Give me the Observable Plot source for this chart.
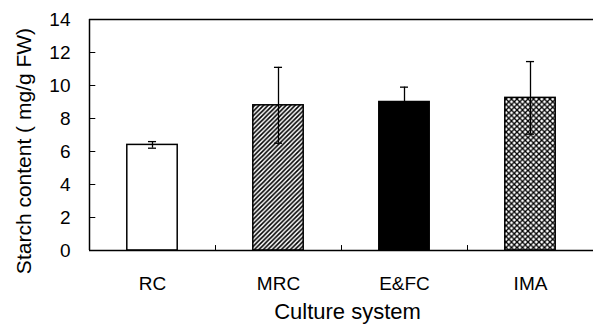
<!DOCTYPE html>
<html>
<head>
<meta charset="utf-8">
<script src="https://cdn.jsdelivr.net/npm/d3@7"></script>
<script src="https://cdn.jsdelivr.net/npm/@observablehq/plot@0.6"></script>
<style>
  html, body { margin: 0; padding: 0; background: #fff; }
  #chart svg { display: block; }
</style>
</head>
<body>
<div id="chart"></div>
<script>
const categories = ["RC", "MRC", "E&FC", "IMA"];
const means = [6.4, 8.8, 9.0, 9.25];
const errors = [0.2, 2.3, 0.9, 2.2];
const yTicks = [0, 2, 4, 6, 8, 10, 12, 14];
const xLabel = "Culture system";
const yLabel = "Starch content ( mg/g FW)";

const fills = ["white", "url(#hatch)", "black", "url(#cross)"];

const data = categories.map((c, i) => ({c, i, mean: means[i], err: errors[i], fill: fills[i]}));
const half = 0.2;   // half bar width in band units
const cap = 0.032;

const chart = Plot.plot({
  width: 593,
  height: 331,
  marginLeft: 89,
  marginRight: 0,
  marginTop: 19,
  marginBottom: 81,
  style: {fontFamily: "'Liberation Sans', Arial, sans-serif", background: "white", color: "black"},
  x: {domain: [0, categories.length], axis: null},
  y: {domain: [0, 14], axis: null},
  marks: [
    // bars
    Plot.rectY(data, {x1: d => d.i + 0.5 - half, x2: d => d.i + 0.5 + half, y1: 0, y2: "mean", fill: "fill", stroke: "black", strokeWidth: 1.5}),
    // error bars
    Plot.ruleX(data, {x: d => d.i + 0.5, y1: d => d.mean - d.err, y2: d => d.mean + d.err, stroke: "black", strokeWidth: 1.3}),
    Plot.ruleY(data, {y: d => d.mean + d.err, x1: d => d.i + 0.5 - cap, x2: d => d.i + 0.5 + cap, stroke: "black", strokeWidth: 1.3}),
    Plot.ruleY(data, {y: d => d.mean - d.err, x1: d => d.i + 0.5 - cap, x2: d => d.i + 0.5 + cap, stroke: "black", strokeWidth: 1.3}),
    // frame
    Plot.ruleX([0], {stroke: "black", strokeWidth: 1.5}),
    Plot.ruleY([0, 14], {stroke: "black", strokeWidth: 1.5}),
    // inward y ticks
    Plot.ruleY(yTicks, {x1: 0, x2: 0.05, stroke: "black", strokeWidth: 1}),
    // x boundary ticks
    Plot.ruleX(d3.range(1, categories.length), {y1: 0, y2: 0.3, stroke: "black", strokeWidth: 1}),
    // tick labels
    Plot.text(yTicks, {x: 0, y: d => d, text: d => String(d), textAnchor: "end", dx: -19, fontSize: 19}),
    Plot.text(data, {x: d => d.i + 0.5, y: 0, text: "c", dy: 33, fontSize: 19}),
    // axis titles
    Plot.text([xLabel], {frameAnchor: "bottom", text: d => d, dx: 6, dy: 68, fontSize: 22, textAnchor: "middle"}),
    Plot.text([yLabel], {frameAnchor: "left", text: d => d, rotate: -90, dx: -65, dy: 16, fontSize: 21, textAnchor: "middle"})
  ]
});

// pattern definitions
const svg = d3.select(chart);
const defs = svg.insert("defs", ":first-child");
const hatch = defs.append("pattern").attr("id", "hatch").attr("patternUnits", "userSpaceOnUse")
  .attr("width", 4.5).attr("height", 4.5);
hatch.append("rect").attr("width", 4.5).attr("height", 4.5).attr("fill", "white");
hatch.append("path").attr("d", "M-1,1 l2,-2 M0,4.5 l4.5,-4.5 M3.5,5.5 l2,-2").attr("stroke", "black").attr("stroke-width", 1.6);
const cross = defs.append("pattern").attr("id", "cross").attr("patternUnits", "userSpaceOnUse")
  .attr("width", 5.5).attr("height", 5.5);
cross.append("rect").attr("width", 5.5).attr("height", 5.5).attr("fill", "white");
cross.append("path").attr("d", "M0,0 L5.5,5.5 M0,5.5 L5.5,0").attr("stroke", "black").attr("stroke-width", 1.3);

document.getElementById("chart").appendChild(chart);
</script>
</body>
</html>
